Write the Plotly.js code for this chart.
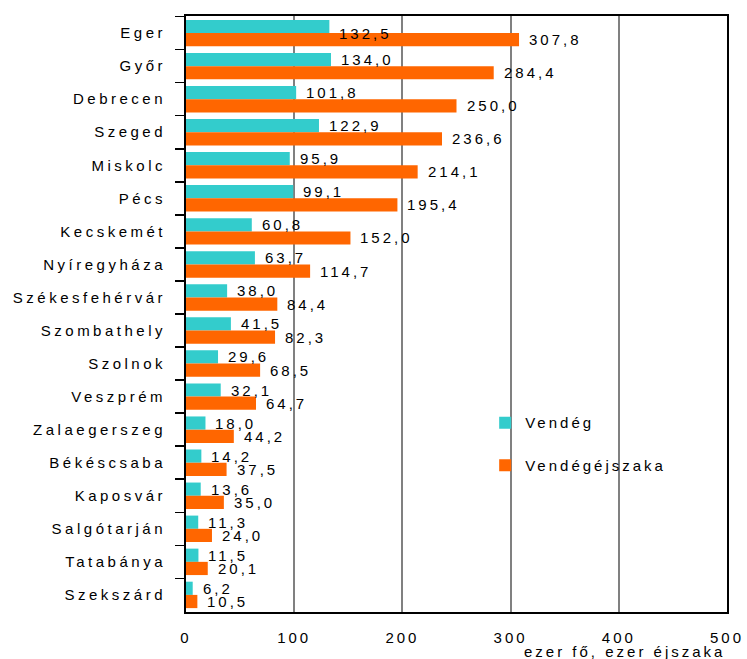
<!DOCTYPE html>
<html>
<head>
<meta charset="utf-8">
<script src="https://cdn.plot.ly/plotly-3.0.1.min.js"></script>
<style>
  html, body { margin: 0; padding: 0; background: #fff; }
  #chart { width: 747px; height: 659px; }
  .ytick text { letter-spacing: 3.5px; }
  .xtick text, .annotation-text, .legendtext { letter-spacing: 3px; }
</style>
</head>
<body>
<div id="chart"></div>
<script>
const categories = ["Eger", "Győr", "Debrecen", "Szeged", "Miskolc", "Pécs", "Kecskemét",
  "Nyíregyháza", "Székesfehérvár", "Szombathely", "Szolnok", "Veszprém", "Zalaegerszeg",
  "Békéscsaba", "Kaposvár", "Salgótarján", "Tatabánya", "Szekszárd"];
const vendeg = [132.5, 134.0, 101.8, 122.9, 95.9, 99.1, 60.8, 63.7, 38.0, 41.5, 29.6, 32.1,
  18.0, 14.2, 13.6, 11.3, 11.5, 6.2];
const vendegejszaka = [307.8, 284.4, 250.0, 236.6, 214.1, 195.4, 152.0, 114.7, 84.4, 82.3,
  68.5, 64.7, 44.2, 37.5, 35.0, 24.0, 20.1, 10.5];
const seriesNames = ["Vendég", "Vendégéjszaka"];
const xTickVals = [0, 100, 200, 300, 400, 500];
const xTitle = "ezer fő, ezer éjszaka";

const FONT = "Liberation Sans, Arial, sans-serif";
const fmt = v => v.toFixed(1).replace(".", ",");

const traces = [
  { type: "bar", orientation: "h", name: seriesNames[0], legendgroup: "a",
    y: categories, x: vendeg, marker: { color: "#33CCCC" }, hoverinfo: "none" },
  { type: "bar", orientation: "h", name: seriesNames[1], legendgroup: "b",
    y: categories, x: vendegejszaka, marker: { color: "#FF6600" }, hoverinfo: "none" }
];

const annotations = [];
categories.forEach((c, i) => {
  annotations.push({ x: vendeg[i], y: c, xref: "x", yref: "y", text: fmt(vendeg[i]),
    showarrow: false, xanchor: "left", yanchor: "middle", xshift: 8,
    yshift: i === 0 ? 0 : 6.6, font: { family: FONT, size: 15, color: "#000" } });
  annotations.push({ x: vendegejszaka[i], y: c, xref: "x", yref: "y", text: fmt(vendegejszaka[i]),
    showarrow: false, xanchor: "left", yanchor: "middle", xshift: 8,
    yshift: -6.6, font: { family: FONT, size: 15, color: "#000" } });
});
annotations.push({ x: 1, y: -0.066, xref: "paper", yref: "paper", text: xTitle,
  showarrow: false, xanchor: "right", yanchor: "middle",
  font: { family: FONT, size: 15, color: "#000" } });

const layout = {
  width: 747, height: 659,
  margin: { l: 186, r: 20, t: 16, b: 47, pad: 0 },
  paper_bgcolor: "#fff", plot_bgcolor: "#fff",
  font: { family: FONT, size: 15, color: "#000" },
  barmode: "group", bargap: 0.2, bargroupgap: 0,
  showlegend: true,
  legend: { x: 0.553, y: 0.345, xanchor: "left", yanchor: "top",
    bgcolor: "rgba(0,0,0,0)", font: { family: FONT, size: 15, color: "#000" },
    tracegroupgap: 20, traceorder: "grouped" },
  xaxis: { range: [0, 500], tickvals: xTickVals, ticktext: xTickVals.map(String),
    showgrid: true, gridcolor: "#808080", gridwidth: 2, zeroline: false,
    showline: true, linecolor: "#000", linewidth: 2, mirror: true,
    ticks: "", ticklabelstandoff: 11, tickfont: { family: FONT, size: 15, color: "#000" },
    fixedrange: true },
  xaxis2: { overlaying: "x", side: "top", anchor: "y", range: [0, 500], tickvals: xTickVals,
    ticks: "outside", ticklen: 4, tickwidth: 2, tickcolor: "#000",
    showticklabels: false, showgrid: false, zeroline: false, showline: false },
  yaxis: { type: "category", autorange: "reversed",
    showline: true, linecolor: "#000", linewidth: 2, mirror: true,
    ticks: "outside", tickson: "boundaries", ticklen: 9, tickwidth: 1.5, tickcolor: "#000",
    showgrid: false, zeroline: false, ticklabelstandoff: 15,
    tickfont: { family: FONT, size: 15, color: "#000" }, fixedrange: true },
  annotations: annotations
};

Plotly.newPlot("chart", traces, layout, { staticPlot: true, displayModeBar: false });
</script>
</body>
</html>
